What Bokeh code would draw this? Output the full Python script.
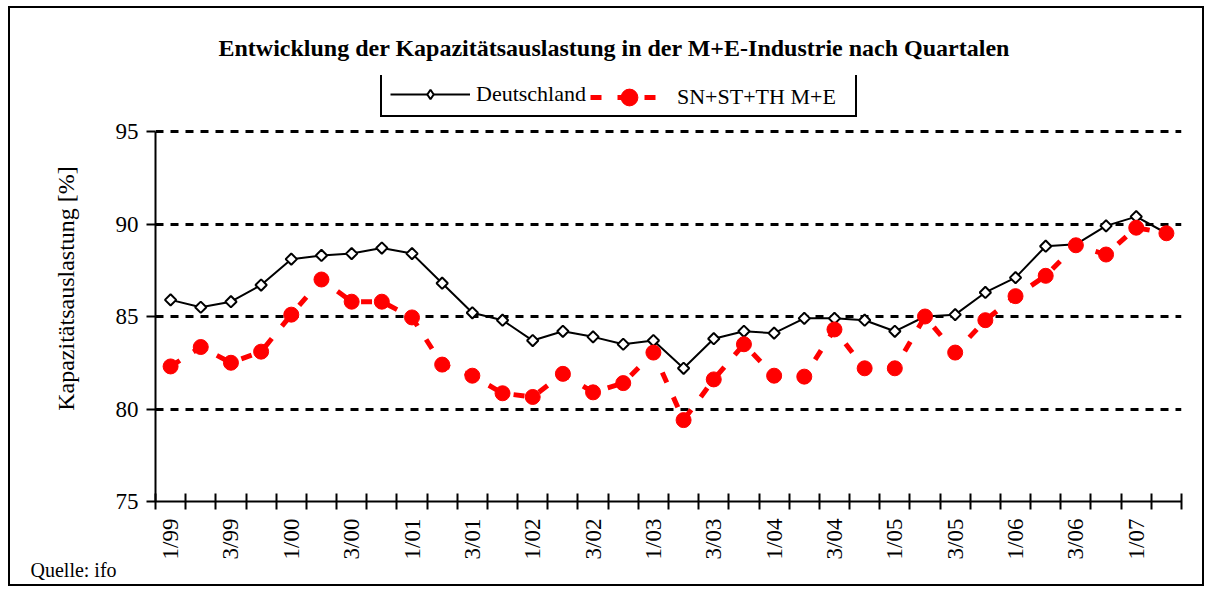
import math
from bokeh.plotting import figure
from bokeh.models import FixedTicker, Range1d, Legend, LegendItem, Title
from bokeh.embed import file_html
from bokeh.resources import INLINE

quarters = ["1/99", "2/99", "3/99", "4/99",
            "1/00", "2/00", "3/00", "4/00",
            "1/01", "2/01", "3/01", "4/01",
            "1/02", "2/02", "3/02", "4/02",
            "1/03", "2/03", "3/03", "4/03",
            "1/04", "2/04", "3/04", "4/04",
            "1/05", "2/05", "3/05", "4/05",
            "1/06", "2/06", "3/06", "4/06",
            "1/07", "2/07"]

deutschland = [85.9, 85.5, 85.8, 86.7,
               88.1, 88.3, 88.4, 88.7,
               88.4, 86.8, 85.2, 84.8,
               83.7, 84.2, 83.9, 83.5,
               83.7, 82.2, 83.8, 84.2,
               84.1, 84.9, 84.9, 84.8,
               84.2, 85.0, 85.1, 86.3,
               87.1, 88.8, 88.9, 89.9,
               90.4, 89.5]

sn_st_th = [82.3, 83.35, 82.5, 83.1,
            85.1, 87.0, 85.8, 85.8,
            84.95, 82.4, 81.8, 80.85,
            80.65, 81.9, 80.9, 81.4,
            83.05, 79.4, 81.6, 83.5,
            81.8, 81.75, 84.3, 82.2,
            82.2, 85.0, 83.05, 84.8,
            86.1, 87.2, 88.85, 88.35,
            89.8, 89.5]

y_ticks = [75, 80, 85, 90, 95]

title_text = "Entwicklung der Kapazitätsauslastung in der M+E-Industrie nach Quartalen"
y_label = "Kapazitätsauslastung [%]"
source_text = "Quelle: ifo"
name_de = "Deutschland"
name_sn = "SN+ST+TH M+E"

FONT = "Liberation Serif"

x = list(range(len(quarters)))

# frame: 1026 x 426 px; the value axis (75..95) occupies the lower 370 px,
# the space above it holds the legend box
PX_PER_UNIT = 370 / 20
y_top = 95 + 56 / PX_PER_UNIT

p = figure(frame_width=1026, frame_height=426,
           min_border_left=145, min_border_right=21,
           min_border_top=67, min_border_bottom=83,
           x_range=Range1d(-0.5, len(quarters) - 0.5),
           y_range=Range1d(75, y_top),
           output_backend="svg", toolbar_location=None)
p.styles = {"border": "2px solid black", "margin-left": "8px", "margin-top": "6px"}
p.outline_line_color = None
p.background_fill_color = "white"
p.border_fill_color = "white"

# title
p.title.text = title_text
p.title.align = "left"
p.title.offset = 63
p.title.text_font = FONT
p.title.text_font_size = "24px"
p.title.text_font_style = "bold"
p.title.text_color = "black"
p.title.standoff = 29

# axes
p.xaxis.ticker = FixedTicker(ticks=list(range(0, len(quarters), 2)),
                             minor_ticks=[i - 0.5 for i in range(len(quarters) + 1)])
p.xaxis.major_label_overrides = {i: quarters[i] for i in range(0, len(quarters), 2)}
p.xaxis.major_label_orientation = math.pi / 2
p.xaxis.major_tick_in = 0
p.xaxis.major_tick_out = 0
p.xaxis.minor_tick_in = 8
p.xaxis.minor_tick_out = 8
p.xaxis.minor_tick_line_width = 2
p.xaxis.minor_tick_line_color = "black"
p.xaxis.axis_line_width = 2
p.xaxis.axis_line_color = "black"
p.xaxis.major_label_standoff = 9
p.xaxis.major_label_text_font = FONT
p.xaxis.major_label_text_font_size = "23px"
p.xaxis.major_label_text_color = "black"

p.yaxis.ticker = FixedTicker(ticks=y_ticks)
p.yaxis.bounds = (y_ticks[0], y_ticks[-1])
p.yaxis.major_tick_in = 0
p.yaxis.major_tick_out = 9
p.yaxis.major_tick_line_width = 2
p.yaxis.major_tick_line_color = "black"
p.yaxis.minor_tick_in = 0
p.yaxis.minor_tick_out = 0
p.yaxis.axis_line_width = 2
p.yaxis.axis_line_color = "black"
p.yaxis.major_label_standoff = 8
p.yaxis.major_label_text_font = FONT
p.yaxis.major_label_text_font_size = "23px"
p.yaxis.major_label_text_color = "black"
p.yaxis.axis_label = y_label
p.yaxis.axis_label_text_font = FONT
p.yaxis.axis_label_text_font_size = "24px"
p.yaxis.axis_label_text_font_style = "normal"
p.yaxis.axis_label_text_color = "black"
p.yaxis.axis_label_standoff = 34

p.xgrid.visible = False
p.ygrid.ticker = FixedTicker(ticks=y_ticks[1:])
p.ygrid.grid_line_color = "black"
p.ygrid.grid_line_width = 3
p.ygrid.grid_line_dash = "8 7"

# series
l_de = p.line(x, deutschland, line_color="black", line_width=2)
s_de = p.scatter(x, deutschland, marker="square", angle=math.pi / 4, size=8,
                 fill_color="white", line_color="black", line_width=2)
l_sn = p.line(x, sn_st_th, line_color="#ff0000", line_width=5, line_dash="11 16")
s_sn = p.scatter(x, sn_st_th, marker="circle", size=15,
                 fill_color="#ff0000", line_color="#ff0000", line_width=1)
# legend-only diamond marker (placed outside the visible range)
proxy_de = p.scatter([-100], [0], marker="diamond", size=10,
                     fill_color="white", line_color="black", line_width=2)

# legend: framed box with the first entry, second entry drawn inside the same box
leg_a = Legend(items=[LegendItem(label=name_de, renderers=[l_de, proxy_de])],
               location=(225, 384), orientation="horizontal",
               glyph_width=80, glyph_height=24, label_standoff=6,
               label_width=371, padding=8, spacing=0, margin=0,
               border_line_color="black", border_line_width=2, border_line_alpha=1,
               background_fill_color="white", background_fill_alpha=1,
               label_text_font=FONT, label_text_font_size="22px",
               label_text_color="black")
leg_b = Legend(items=[LegendItem(label=name_sn, renderers=[l_sn, s_sn])],
               location=(435, 383), orientation="horizontal",
               glyph_width=78, glyph_height=42, label_standoff=9,
               padding=0, spacing=0, margin=0,
               border_line_alpha=0, background_fill_alpha=0,
               label_text_font=FONT, label_text_font_size="22px",
               label_text_color="black")
p.add_layout(leg_a)
p.add_layout(leg_b)

p.add_layout(Title(text=source_text, align="left", offset=-125, standoff=-12,
                   text_font=FONT, text_font_size="20px", text_font_style="normal",
                   text_color="black"), "below")

open("out.html", "w").write(file_html(p, INLINE))
